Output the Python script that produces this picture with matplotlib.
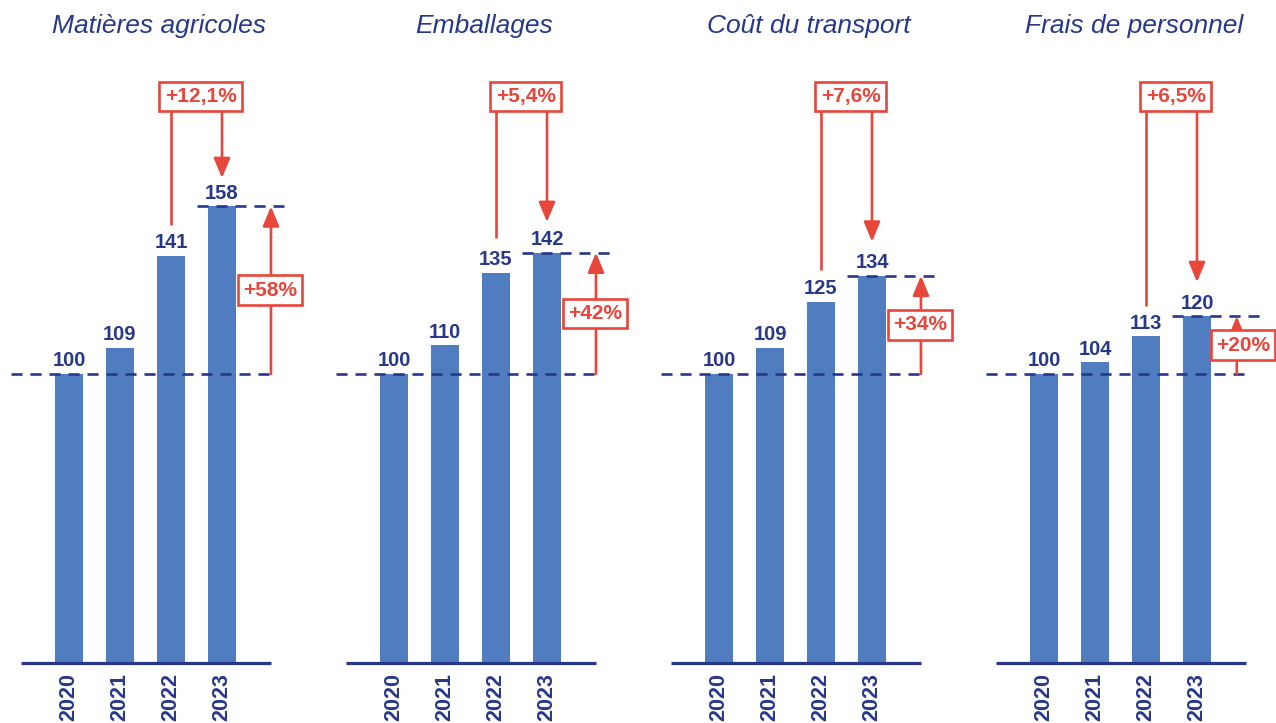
import matplotlib
matplotlib.use("Agg")
import matplotlib.pyplot as plt
from matplotlib.font_manager import FontProperties
from matplotlib.patches import FancyArrowPatch

# ---- data -------------------------------------------------------------
years = ["2020", "2021", "2022", "2023"]
titles = ["Matières agricoles", "Emballages", "Coût du transport", "Frais de personnel"]
matieres_agricoles = [100, 109, 141, 158]
emballages = [100, 110, 135, 142]
cout_transport = [100, 109, 125, 134]
frais_personnel = [100, 104, 113, 120]
series = [matieres_agricoles, emballages, cout_transport, frais_personnel]
yearly_change = ["+12,1%", "+5,4%", "+7,6%", "+6,5%"]
total_change = ["+58%", "+42%", "+34%", "+20%"]

# ---- style ------------------------------------------------------------
BLUE = "#4F7DC0"
NAVY = "#27388A"
RED = "#E8453B"
FAMILY = "Liberation Sans"
fp_value = FontProperties(family=FAMILY, weight="bold", size=14.5)
fp_year = FontProperties(family=FAMILY, weight="bold", size=15.5)
fp_pct = FontProperties(family=FAMILY, weight="bold", size=15)
fp_title = FontProperties(family=FAMILY, style="italic", size=19)

W, H, DPI = 1276, 723, 100
PX_X = 51.0      # pixels per category step
PX_Y = 2.89      # pixels per index point
PANEL_STEP = 325
AX_W = 300
BAR0 = 69        # first bar centre inside a panel (px)
BASE = 663       # zero line, px from top
YMAX = 225

fig = plt.figure(figsize=(W / DPI, H / DPI), dpi=DPI)
fig.patch.set_facecolor("white")

# per-panel placement of the annotation marks
up_arrow_x = [3.96, 3.96, 3.96, 3.78]
up_box_x = [3.94, 3.94, 3.94, 3.90]
line_gap = [10.5, 12.0, 11.0, 10.7]     # space left above the 2022 label
arrow_gap = [9.8, 10.6, 11.8, 11.8]     # space left above the 2023 label

for i, vals in enumerate(series):
    left = PANEL_STEP * i
    ax = fig.add_axes([left / W, (H - BASE) / H, AX_W / W, YMAX * PX_Y / H])
    ax.set_xlim(-BAR0 / PX_X, (AX_W - BAR0) / PX_X)
    ax.set_ylim(0, YMAX)
    ax.axis("off")

    xs = list(range(len(years)))
    ax.bar(xs, vals, width=0.55, color=BLUE, zorder=2)

    # zero line
    ax.plot([-0.94, 3.96], [0, 0], color=NAVY, lw=2.3,
            solid_capstyle="butt", zorder=4, clip_on=False)

    # reference dashed lines (base 100 and latest value)
    dash = dict(color=NAVY, lw=1.9, dashes=(4.2, 3.0), zorder=3, clip_on=False)
    ax.plot([-1.14, 4.08], [vals[0], vals[0]], **dash)
    ax.plot([2.51, 4.33], [vals[-1], vals[-1]], **dash)

    # value labels and year labels
    for x, v, yr in zip(xs, vals, years):
        ax.text(x, v + 2.6, f"{v}", ha="center", va="baseline",
                fontproperties=fp_value, color=NAVY, zorder=5)
        ax.text(x, -3.5, yr, ha="center", va="top", rotation=90,
                fontproperties=fp_year, color=NAVY, clip_on=False)

    # panel title
    ax.text((159 - BAR0) / PX_X, 218, titles[i], ha="center", va="baseline",
            fontproperties=fp_title, color=NAVY, clip_on=False)

    box = dict(boxstyle="square,pad=0.25", facecolor="white",
               edgecolor=RED, linewidth=1.9)

    # year-on-year change: box above, line from 2022, arrow into 2023
    top_y = 196
    ax.plot([2, 2], [top_y, vals[2] + line_gap[i]], color=RED, lw=1.9,
            zorder=6, clip_on=False, solid_capstyle="butt")
    ax.add_patch(FancyArrowPatch((3, top_y), (3, vals[3] + arrow_gap[i]),
                                 arrowstyle="-|>,head_length=12,head_width=5",
                                 mutation_scale=1, color=RED, lw=1.9,
                                 shrinkA=0, shrinkB=0, zorder=6, clip_on=False))
    ax.text(2.58, top_y, yearly_change[i], ha="center", va="center",
            fontproperties=fp_pct, color=RED, bbox=box,
            zorder=7, clip_on=False)

    # cumulative change since 2020: upward arrow with boxed label
    ax.add_patch(FancyArrowPatch((up_arrow_x[i], vals[0]), (up_arrow_x[i], vals[-1]),
                                 arrowstyle="-|>,head_length=12,head_width=5",
                                 mutation_scale=1, color=RED, lw=1.9,
                                 shrinkA=0, shrinkB=0, zorder=6, clip_on=False))
    ax.text(up_box_x[i], (vals[0] + vals[-1]) / 2, total_change[i],
            ha="center", va="center", fontproperties=fp_pct,
            color=RED, bbox=box, zorder=7, clip_on=False)

fig.savefig("out.png", dpi=DPI, facecolor="white")
